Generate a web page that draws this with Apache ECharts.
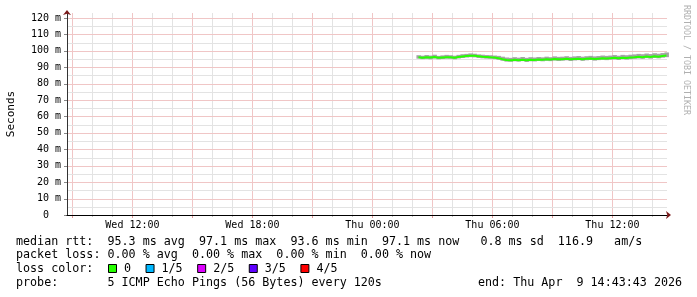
<!DOCTYPE html>
<html><head><meta charset="utf-8">
<script src="https://cdn.jsdelivr.net/npm/echarts@6/dist/echarts.min.js"></script>
<style>html,body{margin:0;padding:0;background:#fff}#c{width:697px;height:297px}</style>
</head><body><div id="c"></div>
<script>
// hours measured from Wed 00:00
const startHour = 8 + 43/60 + 43/3600;   // Wed 08:43:43
const endHour = startHour + 30;           // Thu 14:43:43
const minorGridHours = [10,11,13,14,16,17,19,20,22,23,25,26,28,29,31,32,34,35,37,38];
const majorGridHours = [9,12,15,18,21,24,27,30,33,36];
const labelHours = [12,18,24,30,36];
const labelTexts = ['Wed 12:00','Wed 18:00','Thu 00:00','Thu 06:00','Thu 12:00'];
const yMajorTicks = [0,10,20,30,40,50,60,70,80,90,100,110,120];
const yMinorTicks = [5,15,25,35,45,55,65,75,85,95,105,115];
const yMax = 123;

const sampleStart = 26.3;   // first sample, Thu 02:18
const sampleStep = 0.2;     // hours between samples
const medianRtt = [96.1,95.8,96.0,95.9,96.2,95.7,95.9,96.1,96.0,95.8,
  96.2,96.5,96.8,97.0,96.9,96.6,96.3,96.2,96.0,95.9,
  95.5,94.9,94.4,94.2,94.5,94.3,94.6,94.2,94.5,94.4,
  94.7,94.5,94.8,94.7,95.0,94.8,94.9,95.1,94.8,95.0,
  95.2,94.9,95.1,95.3,95.0,95.2,95.4,95.3,95.5,95.7,
  95.4,95.8,95.6,95.9,96.0,96.3,96.1,96.5,96.2,96.6,
  96.4,96.8,97.1];
const smokeLow = [95.2,94.9,95.1,94.8,95.3,94.8,95.0,95.2,95.1,94.8,
  95.3,95.6,95.9,96.1,96.0,95.6,95.4,95.2,95.1,94.9,
  94.5,93.9,93.4,93.3,93.6,93.4,93.7,93.2,93.6,93.5,
  93.8,93.6,93.9,93.7,94.1,93.8,94.0,94.2,93.8,94.1,
  94.3,93.9,94.2,94.4,94.0,94.3,94.5,94.3,94.6,94.7,
  94.4,94.9,94.6,94.9,95.1,95.3,95.1,95.5,95.2,95.6,
  95.4,95.8,96.1];
const smokeHigh = [97.3,97.0,97.4,97.1,97.6,96.9,97.2,97.5,97.3,97.0,
  97.5,97.9,98.1,98.4,98.2,97.8,97.6,97.4,97.3,97.1,
  96.9,96.4,95.9,95.7,96.1,95.8,96.2,95.7,96.1,95.9,
  96.2,96.0,96.4,96.1,96.6,96.3,96.4,96.7,96.3,96.6,
  96.8,96.4,96.7,96.9,96.6,96.8,97.1,96.9,97.1,97.4,
  97.0,97.5,97.3,97.6,97.8,98.1,97.9,98.3,98.0,98.5,
  98.2,98.6,99.0];

const legendLines = [
  'median rtt:  95.3 ms avg  97.1 ms max  93.6 ms min  97.1 ms now   0.8 ms sd  116.9   am/s',
  'packet loss: 0.00 % avg  0.00 % max  0.00 % min  0.00 % now',
  'loss color:',
  'probe:       5 ICMP Echo Pings (56 Bytes) every 120s'
];
const endText = 'end: Thu Apr  9 14:43:43 2026';
const lossLabels = ['0','1/5','2/5','3/5','4/5'];
const lossColors = ['#26ff00','#00b8ff','#dd00ff','#5e00ff','#ff0000'];
const watermark = 'RRDTOOL / TOBI OETIKER';
const yTitle = 'Seconds';

const MONO = '"DejaVu Sans Mono", monospace';
const times = medianRtt.map((_, i) => +(sampleStart + i * sampleStep).toFixed(3));
const smokeData = times.map((t, i) => [t, smokeLow[i], smokeHigh[i]]);
const medData = times.map((t, i) => [t, medianRtt[i]]);

const minorColor = '#e3e3e3';
const majorColor = '#f0c6c6';
const minorTickColor = '#c4c4c4';
const majorTickColor = '#e39898';

// grid line records: [x value, y value, kind]
const vGridData = minorGridHours.map(h => [h, 0, 0]).concat(majorGridHours.map(h => [h, 0, 1]));
const hGridData = yMinorTicks.map(v => [startHour, v, 0]).concat(yMajorTicks.map(v => [startHour, v, 1]));

function xAxisBase(extra) {
  return Object.assign({
    type: 'value', min: startHour, max: endHour, position: 'bottom',
    axisLine: { show: false }, axisLabel: { show: false }, axisTick: { show: false },
    splitLine: { show: false }
  }, extra);
}
function yAxisBase(extra) {
  return Object.assign({
    type: 'value', min: 0, max: yMax, position: 'left',
    axisLine: { show: false }, axisLabel: { show: false }, axisTick: { show: false },
    splitLine: { show: false }
  }, extra);
}

const chart = echarts.init(document.getElementById('c'), null, { renderer: 'canvas' });

const graphics = [];
const lineY = [241.7, 255.2, 268.9, 282.6];
legendLines.forEach((s, i) => {
  graphics.push({ type: 'text', x: 16, y: lineY[i],
    style: { text: s, font: '11.7px ' + MONO, fill: '#000', verticalAlign: 'middle', textVerticalAlign: 'middle' } });
});
graphics.push({ type: 'text', x: 478, y: lineY[3],
  style: { text: endText, font: '11.7px ' + MONO, fill: '#000', verticalAlign: 'middle', textVerticalAlign: 'middle' } });
let lx = 108.5;
const cw = 7.04;
lossLabels.forEach((lab, i) => {
  graphics.push({ type: 'rect', shape: { x: lx, y: 264.5, width: 8, height: 8 },
    style: { fill: lossColors[i], stroke: '#000', lineWidth: 1 } });
  graphics.push({ type: 'text', x: lx + 15.5, y: lineY[2],
    style: { text: lab, font: '11.7px ' + MONO, fill: '#000', verticalAlign: 'middle', textVerticalAlign: 'middle' } });
  lx = lx + 15.5 + lab.length * cw + 15;
});
graphics.push({ type: 'text', x: 11, y: 114, rotation: Math.PI / 2,
  style: { text: yTitle, font: '11px ' + MONO, fill: '#000', align: 'center', textAlign: 'center', verticalAlign: 'middle', textVerticalAlign: 'middle' } });
graphics.push({ type: 'text', x: 686, y: 60, rotation: -Math.PI / 2,
  style: { text: watermark, font: '8.3px ' + MONO, fill: '#b0b0b0', align: 'center', textAlign: 'center', verticalAlign: 'middle', textVerticalAlign: 'middle' } });

chart.setOption({
  animation: false,
  backgroundColor: '#ffffff',
  grid: { left: 67, right: 30, top: 13, bottom: 82, containLabel: false },
  xAxis: [
    xAxisBase({ z: 6,
      axisLabel: { show: true, customValues: labelHours, margin: 5, color: '#000', fontFamily: MONO, fontSize: 10,
        formatter: v => { const k = labelHours.findIndex(h => Math.abs(h - v) < 1e-6); return k >= 0 ? labelTexts[k] : ''; } },
      axisLine: { show: true, lineStyle: { color: '#000', width: 1 } } }),
    xAxisBase({ z: 7,
      axisLine: { show: true, symbol: ['none', 'arrow'], symbolSize: [6, 5], symbolOffset: [0, 4],
        lineStyle: { color: '#7a1a1a', width: 0 } } })
  ],
  yAxis: [
    yAxisBase({ z: 6,
      axisLabel: { show: true, customValues: yMajorTicks, margin: 6, color: '#000', fontFamily: MONO, fontSize: 10,
        formatter: v => v === 0 ? '0  ' : (v + ' m') },
      axisLine: { show: true, lineStyle: { color: '#333', width: 1 } } }),
    yAxisBase({ z: 7,
      axisLine: { show: true, symbol: ['none', 'arrow'], symbolSize: [6, 5], symbolOffset: [0, 3],
        lineStyle: { color: '#7a1a1a', width: 0 } } })
  ],
  series: [
    { type: 'custom', xAxisIndex: 0, yAxisIndex: 0, data: vGridData, z: 1, silent: true, clip: false,
      encode: { x: 0, y: 1 },
      renderItem: (params, api) => {
        const cs = params.coordSys;
        const x = Math.round(api.coord([api.value(0), 0])[0]) + 0.5;
        const major = api.value(2) === 1;
        return { type: 'group', children: [
          { type: 'line', shape: { x1: x, y1: cs.y, x2: x, y2: cs.y + cs.height },
            style: { stroke: major ? majorColor : minorColor, lineWidth: 1 } },
          { type: 'line', shape: { x1: x, y1: cs.y + cs.height, x2: x, y2: cs.y + cs.height + (major ? 3 : 2) },
            style: { stroke: major ? majorTickColor : minorTickColor, lineWidth: 1 } }
        ] };
      } },
    { type: 'custom', xAxisIndex: 0, yAxisIndex: 0, data: hGridData, z: 1, silent: true, clip: false,
      encode: { x: 0, y: 1 },
      renderItem: (params, api) => {
        const cs = params.coordSys;
        const y = Math.round(api.coord([startHour, api.value(1)])[1]) + 0.5;
        const major = api.value(2) === 1;
        const children = [{ type: 'line', shape: { x1: cs.x, y1: y, x2: cs.x + cs.width, y2: y },
          style: { stroke: major ? majorColor : minorColor, lineWidth: 1 } }];
        if (major) children.push({ type: 'line', shape: { x1: cs.x - 3, y1: y, x2: cs.x, y2: y },
          style: { stroke: '#888', lineWidth: 1 } });
        return { type: 'group', children: children };
      } },
    { type: 'custom', xAxisIndex: 0, yAxisIndex: 0, data: smokeData, z: 3, silent: true,
      encode: { x: 0, y: [1, 2] },
      renderItem: (params, api) => {
        const t = api.value(0);
        const p1 = api.coord([t - sampleStep / 2, api.value(2)]);
        const p2 = api.coord([t + sampleStep / 2, api.value(1)]);
        return { type: 'rect', shape: { x: p1[0], y: p1[1], width: p2[0] - p1[0] + 0.5, height: p2[1] - p1[1] },
          style: { fill: '#a4a4a4' } };
      } },
    { type: 'line', xAxisIndex: 0, yAxisIndex: 0, data: medData, symbol: 'none', step: 'middle',
      lineStyle: { color: '#26ff00', width: 2 }, z: 4, silent: true }
  ],
  graphic: graphics
});
</script>
</body></html>
